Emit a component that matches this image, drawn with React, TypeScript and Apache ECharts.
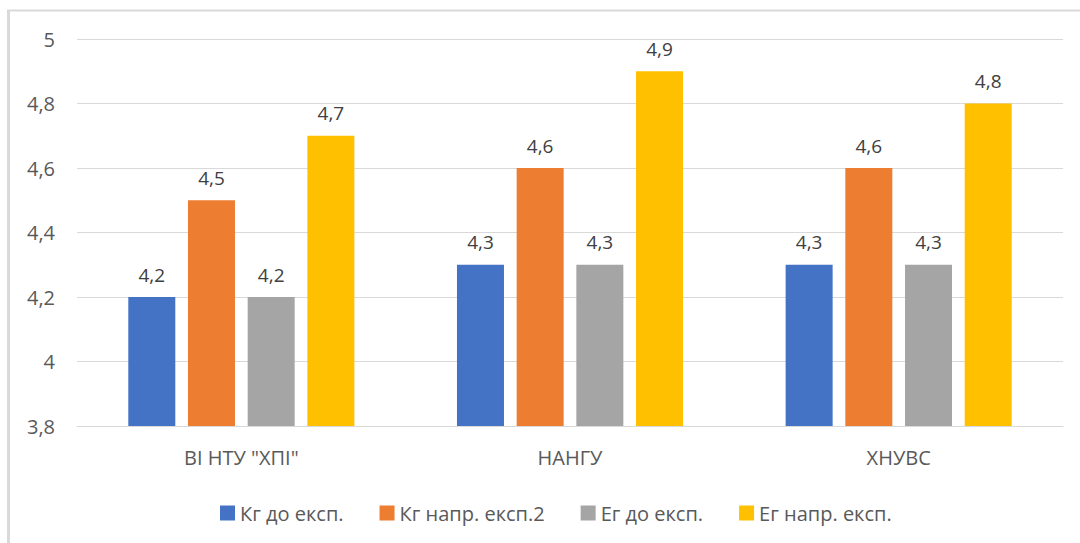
import React, { useEffect, useRef } from "react";
import * as echarts from "echarts";

const categories = ['ВІ НТУ "ХПІ"', "НАНГУ", "ХНУВС"];
const seriesNames = ["Кг до експ.", "Кг напр. експ.2", "Ег до експ.", "Ег напр. експ."];
const kgBefore = [4.2, 4.3, 4.3];
const kgAfter = [4.5, 4.6, 4.6];
const egBefore = [4.2, 4.3, 4.3];
const egAfter = [4.7, 4.9, 4.8];
const colors = ["#4472C4", "#ED7D31", "#A5A5A5", "#FFC000"];

const FONT = "'Open Sans', 'Noto Sans', sans-serif";
const comma = (v: number) => String(v).replace(".", ",");

export default function App() {
  const ref = useRef<HTMLDivElement>(null);
  useEffect(() => {
    const chart = echarts.init(ref.current!, null, { renderer: "svg" });
    const datasets = [kgBefore, kgAfter, egBefore, egAfter];
    chart.setOption({
      animation: false,
      backgroundColor: "#ffffff",
      grid: { left: 77, right: 17, top: 39, bottom: 117, containLabel: false },
      legend: {
        top: 498,
        left: 215,
        itemWidth: 15,
        itemHeight: 15,
        itemGap: 36,
        icon: "rect",
        textStyle: { fontFamily: FONT, fontSize: 20, lineHeight: 20, color: "#595959" },
        data: seriesNames,
      },
      xAxis: {
        type: "category",
        data: categories,
        axisLine: { lineStyle: { color: "#d9d9d9", width: 1 } },
        axisTick: { show: false },
        axisLabel: { fontFamily: FONT, fontSize: 20, color: "#595959", margin: 21 },
      },
      yAxis: {
        type: "value",
        min: 3.8,
        max: 5,
        interval: 0.2,
        axisLine: { show: false },
        axisTick: { show: false },
        splitLine: { lineStyle: { color: "#d9d9d9", width: 1 } },
        axisLabel: {
          fontFamily: FONT,
          fontSize: 20,
          color: "#595959",
          margin: 22,
          formatter: (v: number) => comma(Math.round(v * 10) / 10),
        },
      },
      series: seriesNames.map((name, i) => ({
        name,
        type: "bar",
        data: datasets[i],
        barWidth: 47,
        barGap: "27%",
        itemStyle: { color: colors[i] },
        label: {
          show: true,
          position: "top",
          distance: 13,
          fontFamily: FONT,
          fontSize: 19,
          color: "#404040",
          formatter: (p: any) => comma(p.value),
        },
      })),
      graphic: [
        {
          type: "line",
          shape: { x1: 7, y1: 10.5, x2: 1080, y2: 10.5 },
          style: { stroke: "#d9d9d9", lineWidth: 2 },
        },
        {
          type: "line",
          shape: { x1: 8.5, y1: 10, x2: 8.5, y2: 543 },
          style: { stroke: "#d9d9d9", lineWidth: 3 },
        },
      ],
    });
    return () => chart.dispose();
  }, []);
  return (
    <div
      ref={ref}
      style={{ position: "fixed", left: 0, top: 0, width: 1080, height: 543, background: "#fff" }}
    />
  );
}
